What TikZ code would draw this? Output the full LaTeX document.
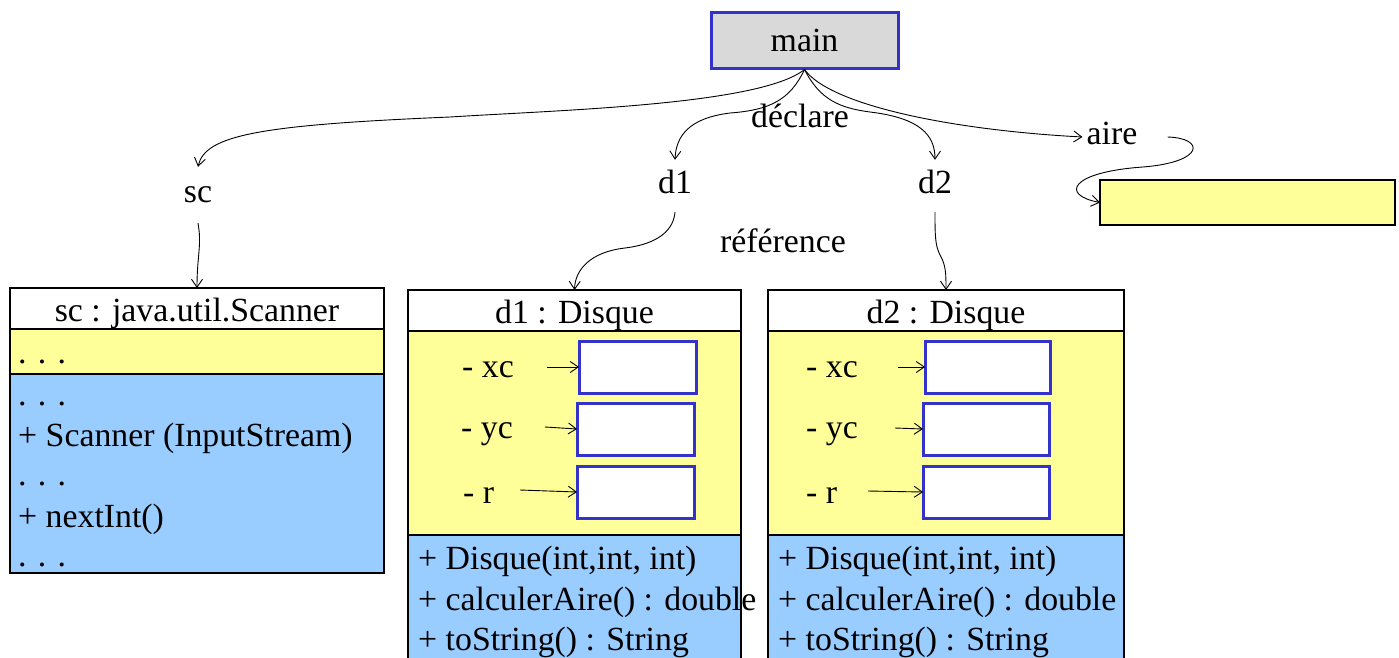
\documentclass[tikz,border=0pt]{standalone}
\usepackage{fontspec}
\setmainfont{Liberation Serif}
\usetikzlibrary{arrows.meta}
\definecolor{ylw}{HTML}{FFFF99}
\definecolor{blu}{HTML}{99CCFF}
\definecolor{gry}{HTML}{D9D9D9}
\definecolor{bord}{HTML}{3333CC}
\begin{document}
\begin{tikzpicture}[x=1pt,y=-1pt,
 txt/.style={font=\fontsize{33.8}{40}\selectfont, inner sep=0pt},
 lft/.style={txt, anchor=base west},
 ctr/.style={txt, anchor=base},
 lbl/.style={txt, text height=22pt, text depth=7pt},
 conn/.style={-{Straight Barb[length=8pt,width=11pt]}, line width=0.9pt},
 comp/.style={draw=black, line width=1.2pt, anchor=north west, inner sep=0pt, outer sep=0pt},
 slot/.style={draw=bord, line width=3pt, fill=white, anchor=north west, inner sep=0pt, outer sep=0pt, minimum height=52pt},
]
\useasboundingbox (0,0) rectangle (1399,657);
\clip (0,0) rectangle (1399,657);

% main
\node[txt, draw=bord, line width=3pt, fill=gry, minimum width=187pt, minimum height=56pt] (main) at (804.5,40) {main};

% labels
\node[lbl, minimum height=56pt] (sc) at (198,195) {sc};
\node[lbl, minimum height=52pt] (d1) at (675,186) {d1};
\node[lbl, minimum height=52pt] (d2) at (935,186) {d2};
\node[lbl] (aire) at (1112,137) {aire};
\node[ctr] (declare) at (800,127) {déclare};
\node[ctr] (reference) at (783,252) {référence};

% aire slot
\node[comp, fill=ylw, minimum width=295pt, minimum height=45pt] (airebox) at (1100,180) {};

% sc object
\node[comp, fill=white, minimum width=374pt, minimum height=41pt] (schead) at (10,288) {};
\node[comp, fill=ylw, minimum width=374pt, minimum height=45pt] (scattr) at (10,329) {};
\node[comp, fill=blu, minimum width=374pt, minimum height=199pt] (scmeth) at (10,374) {};
\node[ctr] at (197,321) {sc : java.util.Scanner};
\node[lft] at (18,363) {. . .};
\node[lft] at (18,405) {. . .};
\node[lft] at (18,446) {+ Scanner (InputStream)};
\node[lft] at (18,485) {. . .};
\node[lft] at (18,527) {+ nextInt()};
\node[lft] at (18,566) {. . .};

% d1 object
\node[comp, fill=white, minimum width=333pt, minimum height=41pt] (d1head) at (408,290) {};
\node[comp, fill=ylw, minimum width=333pt, minimum height=204pt] (d1attr) at (408,331) {};
\node[comp, fill=blu, minimum width=333pt, minimum height=140pt] (d1meth) at (408,535) {};
\node[ctr] at (574.5,323) {d1 : Disque};
\node[lft] (d1xcl) at (462,377) {- xc};
\node[lft] (d1ycl) at (461,438) {- yc};
\node[lft] (d1rl) at (463,503) {- r};
\node[slot, minimum width=117pt] (d1xc) at (579,341) {};
\node[slot, minimum width=117pt] (d1yc) at (577,403) {};
\node[slot, minimum width=117pt] (d1r) at (577,466) {};
\coordinate (d1xcs) at (547,367);
\coordinate (d1ycs) at (545,427);
\coordinate (d1rs) at (520,490);
\draw[conn] (d1xcs) -- (d1xc.west);
\draw[conn] (d1ycs) -- (d1yc.west);
\draw[conn] (d1rs) -- (d1r.west);
\node[lft] at (418,569) {+ Disque(int,int, int)};
\node[lft] at (418,610) {+ calculerAire() : double};
\node[lft] at (418,650) {+ toString() : String};

% d2 object
\node[comp, fill=white, minimum width=356pt, minimum height=41pt] (d2head) at (768,290) {};
\node[comp, fill=ylw, minimum width=356pt, minimum height=204pt] (d2attr) at (768,331) {};
\node[comp, fill=blu, minimum width=356pt, minimum height=140pt] (d2meth) at (768,535) {};
\node[ctr] at (946,323) {d2 : Disque};
\node[lft] (d2xcl) at (806,377) {- xc};
\node[lft] (d2ycl) at (806,438) {- yc};
\node[lft] (d2rl) at (806,503) {- r};
\node[slot, minimum width=125pt] (d2xc) at (925,341) {};
\node[slot, minimum width=126pt] (d2yc) at (923,403) {};
\node[slot, minimum width=126pt] (d2r) at (923,466) {};
\coordinate (d2xcs) at (898,367);
\coordinate (d2ycs) at (895,428);
\coordinate (d2rs) at (868,491);
\draw[conn] (d2xcs) -- (d2xc.west);
\draw[conn] (d2ycs) -- (d2yc.west);
\draw[conn] (d2rs) -- (d2r.west);
\node[lft] at (778,569) {+ Disque(int,int, int)};
\node[lft] at (778,610) {+ calculerAire() : double};
\node[lft] at (778,650) {+ toString() : String};

% declaration connectors
\draw[conn] (main.south) .. controls (760,105) and (560,110) .. (450,117) .. controls (260,125) and (205,135) .. (sc.north);
\draw[conn] (main.south) .. controls (790,100) and (770,110) .. (730,113) .. controls (690,118) and (676,135) .. (d1.north);
\draw[conn] (main.south) .. controls (820,100) and (840,108) .. (870,112) .. controls (920,118) and (935,135) .. (d2.north);
\draw[conn] (main.south) .. controls (830,105) and (950,130) .. ([xshift=-4pt]aire.west);

% reference connectors
\draw[conn] (sc.south) .. controls (202,245) and (197,255) .. (schead.north);
\draw[conn] (d1.south) .. controls (673,235) and (650,245) .. (625,248) .. controls (590,252) and (575,270) .. (d1head.north);
\draw[conn] (d2.south) .. controls (935,235) and (935,245) .. (940,255) .. controls (946,265) and (946,275) .. (d2head.north);
\draw[conn] ([xshift=30pt]aire.east) .. controls (1205,138) and (1205,162) .. (1143,167) .. controls (1070,172) and (1060,195) .. (airebox.west);
\end{tikzpicture}
\end{document}
